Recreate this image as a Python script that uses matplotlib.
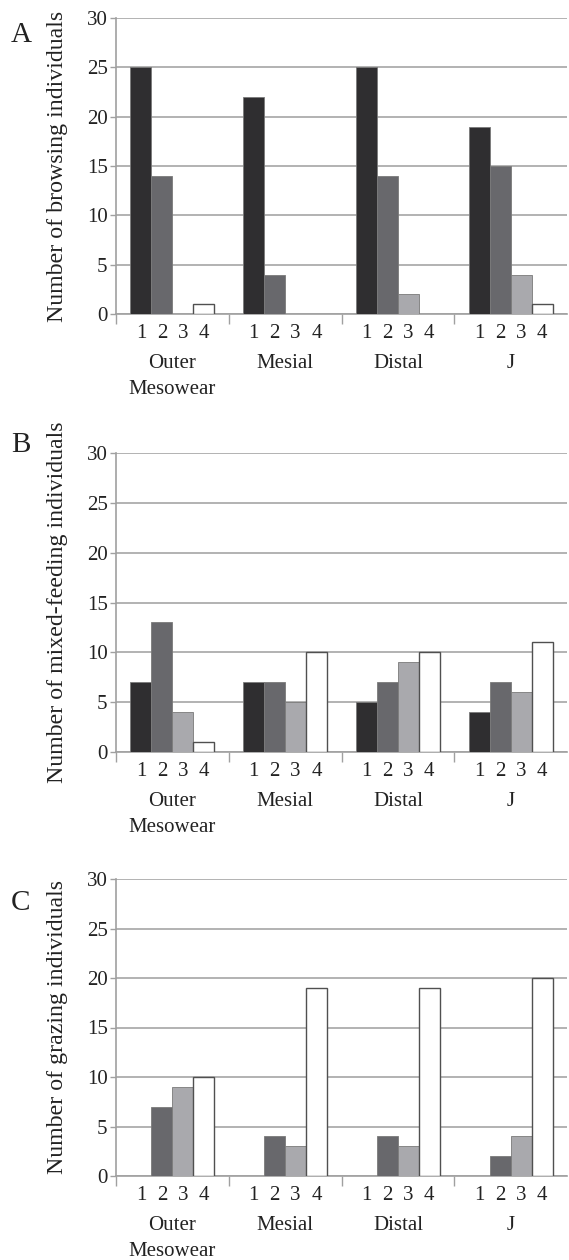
import matplotlib
matplotlib.use("Agg")
import matplotlib.pyplot as plt
import numpy as np
from matplotlib.transforms import blended_transform_factory

plt.rcParams['font.family'] = ['Liberation Serif', 'DejaVu Serif']

groups = ["Outer\nMesowear", "Mesial", "Distal", "J"]
scores = ["1", "2", "3", "4"]

# values[group][score]
browsing = [[25, 14, 0, 1], [22, 4, 0, 0], [25, 14, 2, 0], [19, 15, 4, 1]]
mixed = [[7, 13, 4, 1], [7, 7, 5, 10], [5, 7, 9, 10], [4, 7, 6, 11]]
grazing = [[0, 7, 9, 10], [0, 4, 3, 19], [0, 4, 3, 19], [0, 2, 4, 20]]

panel_letters = ["A", "B", "C"]
ylabels = ["Number of browsing individuals",
           "Number of mixed-feeding individuals",
           "Number of grazing individuals"]
datasets = [browsing, mixed, grazing]

bar_colors = ["#2f2e30", "#68686c", "#a9a9ad", "#ffffff"]

W, H = 569, 1260
fig = plt.figure(figsize=(W / 100, H / 100), dpi=100)

# axes boxes in pixels: (top_y, bottom_y)
boxes = [(18, 314), (453, 752), (879, 1176)]
letter_base = [42, 452, 910]
left_px, right_px = 116, 567
FS = 15
TXT = "#222222"

bw = 0.186
for k, (data, ylab, letter) in enumerate(zip(datasets, ylabels, panel_letters)):
    top, bot = boxes[k]
    ax = fig.add_axes([left_px / W, 1 - bot / H, (right_px - left_px) / W, (bot - top) / H])
    arr = np.array(data, dtype=float)
    xpos_all = []
    for s in range(4):
        x = np.arange(4) + (s - 1.5) * bw
        xpos_all.extend(list(x))
        lws = [(1.0 if s == 3 else 0.6) if v > 0 else 0 for v in arr[:, s]]
        ax.bar(x, arr[:, s], width=bw, color=bar_colors[s],
               edgecolor="#505050" if s == 3 else "#7a7a7a",
               linewidth=lws, zorder=3)
    ax.set_xlim(-0.5, 3.5)
    ax.set_ylim(0, 30)
    ax.set_yticks(np.arange(0, 31, 5))
    ax.yaxis.grid(True, color="#a6a6a6", linewidth=1.2, zorder=0)
    ax.set_axisbelow(True)
    for sp in ["top", "right"]:
        ax.spines[sp].set_visible(False)
    for sp in ["left", "bottom"]:
        ax.spines[sp].set_color("#a0a0a0")
        ax.spines[sp].set_linewidth(1.2)
    ax.tick_params(axis="y", length=4, width=1, color="#a0a0a0", labelsize=FS, pad=2,
                   labelcolor=TXT)
    xs = sorted(xpos_all)
    ax.set_xticks(xs)
    ax.set_xticklabels(scores * 4, fontsize=FS, color=TXT)
    ax.tick_params(axis="x", which="major", length=0, pad=7)
    ax.set_xticks([-0.5, 0.5, 1.5, 2.5], minor=True)
    ax.tick_params(axis="x", which="minor", length=7, width=1, color="#a0a0a0")
    trans = blended_transform_factory(ax.transData, fig.transFigure)
    for g, name in enumerate(groups):
        for li, line in enumerate(name.split("\n")):
            ax.text(g, 1 - (bot + 54 + 26 * li) / H, line, transform=trans, ha="center",
                    va="baseline", fontsize=FS, color=TXT)
    fig.text(58 / W, 1 - ((top + bot) / 2) / H, ylab, rotation=90, ha="center",
             va="center", fontsize=17.2, color=TXT)
    fig.text(21 / W, 1 - letter_base[k] / H, letter, ha="center", va="baseline",
             fontsize=21, color=TXT)

fig.savefig("out.png", dpi=100)
